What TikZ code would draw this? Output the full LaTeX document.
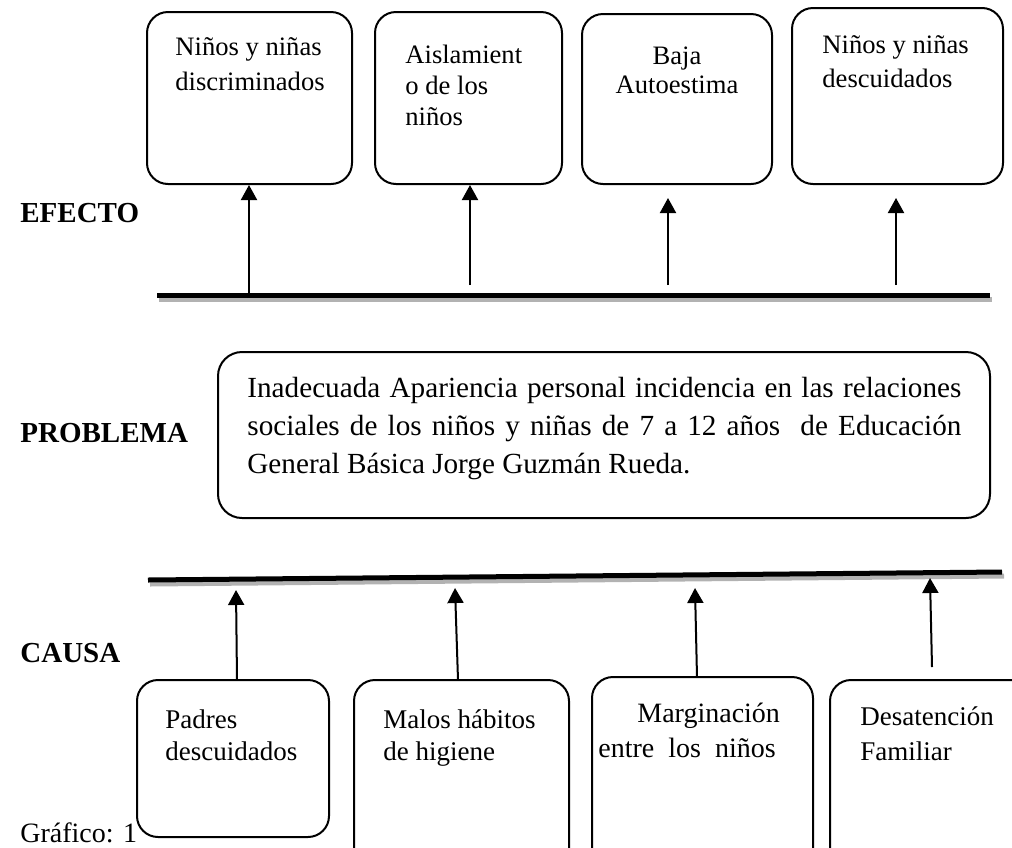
\documentclass[tikz,border=0pt]{standalone}
\usepackage{fontspec}
\setmainfont{Liberation Serif}
\usetikzlibrary{arrows.meta,calc}
\begin{document}
\begin{tikzpicture}[x=0.5pt,y=-0.5pt,
  box/.style={draw,line width=1pt,rounded corners=10.5pt,inner sep=0pt},
  txt/.style={inner sep=0pt,align=left,anchor=base west},
  lab/.style={inner sep=0pt,font=\fontsize{14.5}{17}\selectfont\bfseries,anchor=base west},
  arr/.style={line width=1pt,-{Triangle[width=8pt,length=7.5pt]}},
  bar/.style={line width=2.5pt},
  barshadow/.style={line width=2.5pt,draw=black!30}]
\useasboundingbox (0,0) rectangle (1012,847);
\clip (0,0) rectangle (1012,847);
% effect boxes
\node[box,minimum width=102.5pt,minimum height=86pt] (e1) at (249.5,98) {};
\node[box,minimum width=93.5pt,minimum height=86pt] (e2) at (468.5,98) {};
\node[box,minimum width=95pt,minimum height=85pt] (e3) at (677,99) {};
\node[box,minimum width=105.5pt,minimum height=88pt] (e4) at (897.5,96) {};
\node[txt,font=\fontsize{13.3}{17.5}\selectfont] (e1t) at (175,90) {Niños y niñas\\discriminados};
\node[txt,font=\fontsize{13.3}{15.5}\selectfont] (e2t) at (405,125) {Aislamient\\o de los\\niños};
\node[txt,font=\fontsize{13.3}{14.5}\selectfont,align=center,anchor=base] (e3t) at (677,93) {Baja\\Autoestima};
\node[txt,font=\fontsize{13.3}{17}\selectfont] (e4t) at (822,87) {Niños y niñas\\descuidados};
% labels
\node[lab] (efecto) at (20,222) {EFECTO};
\node[lab] (problema) at (20,442) {PROBLEMA};
\node[lab] (causa) at (20,662) {CAUSA};
\node[txt,font=\fontsize{14}{16}\selectfont] (graf) at (20,842) {Gráfico: 1};
% top bar
\coordinate (tl) at (157,295);
\coordinate (tr) at (990,295);
\draw[barshadow] ($(tl)+(2,4)$) -- ($(tr)+(2,4)$);
\draw[bar] (tl) -- (tr);
\coordinate (ta1) at (249,295);
\coordinate (ta2) at (470,285);
\coordinate (ta3) at (668,285);
\coordinate (ta4) at (896,285);
\draw[arr] (ta1) -- (ta1 |- e1.south);
\draw[arr] (ta2) -- (ta2 |- e2.south);
\draw[arr,shorten >=6.5pt] (ta3) -- (ta3 |- e3.south);
\draw[arr,shorten >=6.5pt] (ta4) -- (ta4 |- e4.south);
% problem
\node[box,rounded corners=12pt,minimum width=386pt,minimum height=83pt] (prob) at (604,435) {};
\node[txt,text width=357pt,align=justify,font=\fontsize{14.6}{19}\selectfont] (probt) at (247,397)
 {Inadecuada Apariencia personal incidencia en las relaciones\linebreak sociales de los niños y niñas de 7 a 12 años \ de Educación\linebreak General Básica Jorge Guzmán Rueda.};
% bottom bar
\coordinate (bl) at (148,580);
\coordinate (br) at (1002,572);
\draw[barshadow] ($(bl)+(2,4)$) -- ($(br)+(2,4)$);
\draw[bar] (bl) -- (br);
% cause boxes
\node[box,minimum width=96pt,minimum height=78.5pt] (c1) at (233,758.5) {};
\node[box,minimum width=107.5pt,minimum height=95pt] (c2) at (461.5,775) {};
\node[box,minimum width=110.5pt,minimum height=96.5pt] (c3) at (702.5,773.5) {};
\node[box,minimum width=105pt,minimum height=95pt] (c4) at (935,775) {};
\node[txt,font=\fontsize{13.5}{16}\selectfont] (c1t) at (165,760) {Padres\\descuidados};
\node[txt,font=\fontsize{13.5}{16}\selectfont] (c2t) at (383,760) {Malos hábitos\\de higiene};
\node[txt,font=\fontsize{14}{17.5}\selectfont] (c3t) at (598,757) {\hspace*{19.5pt}Marginación\\entre\ \ los\ \ niños};
\node[txt,font=\fontsize{13.5}{17.5}\selectfont] (c4t) at (860,760) {Desatención\\Familiar};
% cause arrows
\coordinate (ca1) at (236,590);
\coordinate (ca2) at (455,588);
\coordinate (ca3) at (695,588);
\coordinate (ca4) at (930,578);
\coordinate (cb1) at (237,680);
\coordinate (cb2) at (458,680);
\coordinate (cb3) at (697,677);
\coordinate (cb4) at (932,667);
\draw[arr] (cb1) -- (ca1);
\draw[arr] (cb2) -- (ca2);
\draw[arr] (cb3) -- (ca3);
\draw[arr] (cb4) -- (ca4);
\end{tikzpicture}
\end{document}
